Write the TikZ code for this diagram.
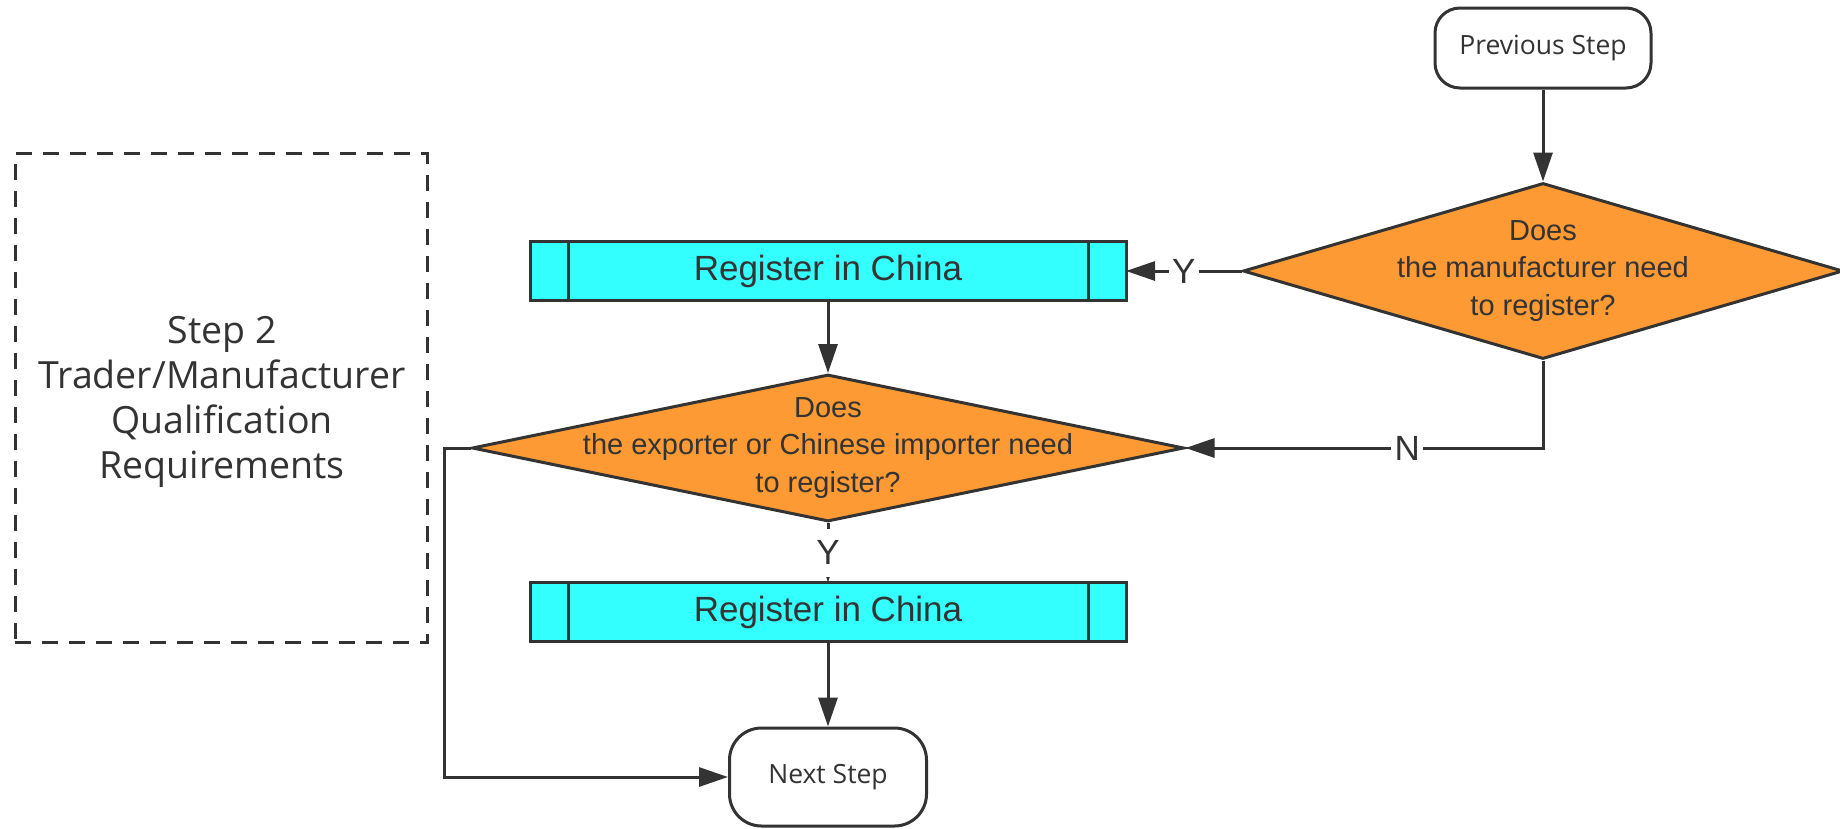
\documentclass[tikz,border=0pt]{standalone}
\usepackage{fontspec}
\setmainfont{Liberation Sans}
\newfontfamily\yahei{Open Sans}
\usetikzlibrary{shapes.geometric,arrows.meta}
\definecolor{ln}{HTML}{333333}
\definecolor{orng}{HTML}{FE9A33}
\definecolor{cyn}{HTML}{33FFFF}
\begin{document}
\begin{tikzpicture}[x=1pt,y=-1pt,
  every node/.style={text=ln},
  conn/.style={draw=ln, line width=3pt, -{Triangle[length=29pt,width=19pt]}},
  dia/.style={diamond, draw=ln, fill=orng, line width=3pt, inner sep=0pt},
  dtext/.style={font=\fontsize{29}{37.5}\selectfont, align=center, inner sep=0pt},
  proc/.style={draw=ln, fill=cyn, line width=3pt, minimum width=596pt, minimum height=59pt, inner sep=0pt, outer sep=0pt, font=\fontsize{35}{42}\selectfont},
  term/.style={draw=ln, fill=white, line width=3pt, inner sep=0pt, font=\yahei\fontsize{26.5}{32}\selectfont},
  lbl/.style={fill=white, font=\fontsize{35}{42}\selectfont, inner xsep=3.5pt, inner ysep=2pt},
  sidebox/.style={draw=ln, dash pattern=on 16pt off 11pt, line width=3pt, minimum width=412pt, minimum height=489pt, align=center},
  sidetext/.style={align=center, inner sep=0pt, font=\yahei\fontsize{37.5}{45}\selectfont}
]
\useasboundingbox (0,0) rectangle (1840,828);

\node[sidebox] (s2) at (221,398) {};
\node[sidetext] (s2t) at (222,402) {Step 2\\Trader/Manufacturer\\Qualification\\Requirements};

\node[term, minimum width=216pt, minimum height=80pt, rounded corners=25pt] (ps) at (1543,48) {Previous Step};
\node[dia, minimum width=600pt, minimum height=176pt] (d1) at (1543,271) {};
\node[dtext] (d1t) at (d1.center) {Does\\the manufacturer need\\to register?};

\node[proc] (r1) at (828,271) {Register in China};
\draw[draw=ln, line width=3pt] ([xshift=38pt]r1.north west) -- ([xshift=38pt]r1.south west);
\draw[draw=ln, line width=3pt] ([xshift=-38pt]r1.north east) -- ([xshift=-38pt]r1.south east);

\node[dia, minimum width=712pt, minimum height=147pt] (d2) at (828,448) {};
\node[dtext] (d2t) at (d2.center) {Does\\the exporter or Chinese importer need\\to register?};

\node[proc] (r2) at (828,612) {Register in China};
\draw[draw=ln, line width=3pt] ([xshift=38pt]r2.north west) -- ([xshift=38pt]r2.south west);
\draw[draw=ln, line width=3pt] ([xshift=-38pt]r2.north east) -- ([xshift=-38pt]r2.south east);

\node[term, minimum width=197pt, minimum height=98pt, rounded corners=32pt] (ns) at (828,777) {Next Step};

\draw[conn] (ps) -- (d1);
\draw[conn] (d1.west) -- node[lbl] {Y} (r1.east);
\draw[conn] (d1.south) |- node[lbl, pos=0.69] {N} (d2.east);
\draw[conn] (r1) -- (d2);
\draw[conn] (d2.south) -- node[lbl, minimum height=48pt, inner ysep=0pt] {Y} (r2.north);
\draw[conn] (r2) -- (ns);
\draw[conn] (d2.west) -- ++(-26,0) |- (ns.west);
\end{tikzpicture}
\end{document}
